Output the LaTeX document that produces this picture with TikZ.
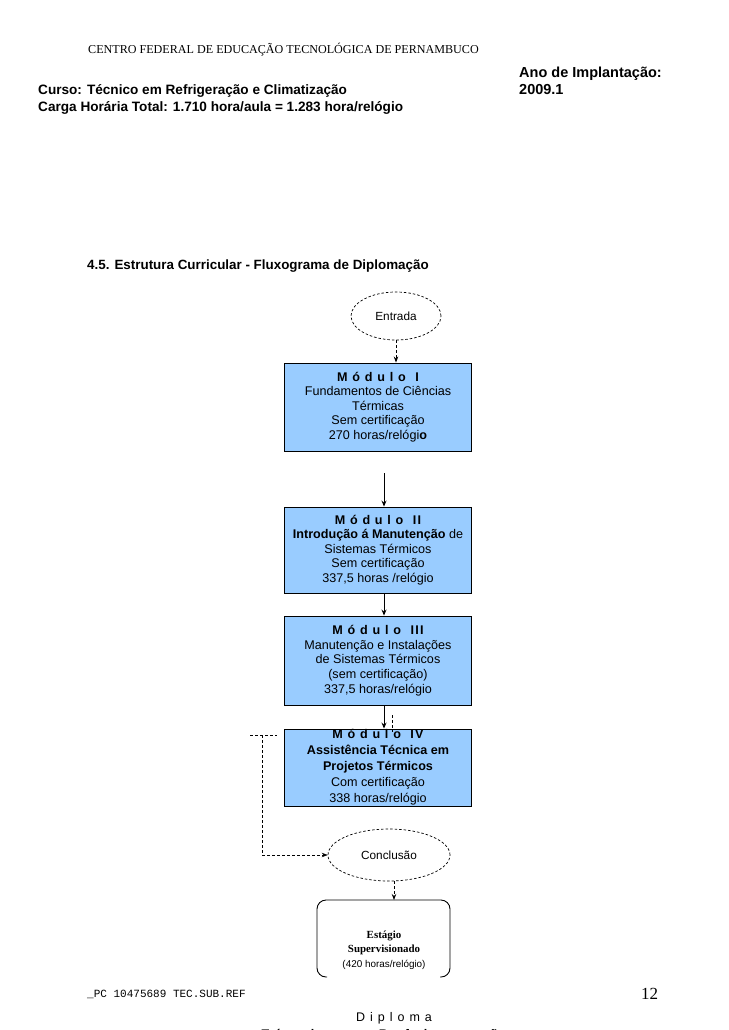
\documentclass[tikz,border=0pt]{standalone}
\usepackage{fontspec}
\setmainfont{Liberation Serif}
\setsansfont{Liberation Sans}
\setmonofont{Liberation Mono}
\newfontfamily\spacedfont[LetterSpace=10]{Liberation Sans}
\newfontfamily\widefont[LetterSpace=40]{Liberation Sans}
\usetikzlibrary{shapes.geometric, arrows.meta}
\definecolor{modblue}{RGB}{153,204,255}

\begin{document}
\begin{tikzpicture}[x=1pt, y=-1pt,
    module/.style={rectangle, draw, line width=0.9pt, fill=modblue, minimum width=187pt, align=center, inner sep=0pt, font=\sffamily\fontsize{12.6}{14.6}\selectfont},
    bubble/.style={ellipse, draw, line width=0.7pt, dash pattern=on 2.5pt off 2pt, inner sep=0pt, font=\sffamily\fontsize{11.8}{14}\selectfont},
    header/.style={anchor=base west, inner sep=0pt, font=\sffamily\bfseries\fontsize{13.6}{16}\selectfont},
    arrow/.style={-{Stealth[length=6pt, width=5pt]}, line width=1pt},
    dasharrow/.style={-{Stealth[length=6pt, width=4.5pt]}, line width=0.8pt, dash pattern=on 3pt off 2pt},
    dashline/.style={line width=0.6pt, dash pattern=on 3pt off 2pt}
]
\useasboundingbox (0,0) rectangle (728,1030);

% Page header
\node[header, font=\fontsize{12.1}{14}\selectfont] (inst) at (88,54) {CENTRO FEDERAL DE EDUCAÇÃO TECNOLÓGICA DE PERNAMBUCO};
\node[header, font=\sffamily\bfseries\fontsize{14.5}{17}\selectfont] (ano) at (519,78) {Ano de Implantação:};
\node[header, font=\sffamily\bfseries\fontsize{14.5}{17}\selectfont] (anoval) at (519,95) {2009.1};
\node[header] (curso) at (38,95) {Curso: Técnico em Refrigeração e Climatização};
\node[header] (carga) at (38,112) {Carga Horária Total: 1.710 hora/aula = 1.283 hora/relógio};
\node[header, font=\sffamily\bfseries\fontsize{13.4}{16}\selectfont] (titulo) at (87,269) {4.5. Estrutura Curricular - Fluxograma de Diplomação};

% Entry
\node[bubble, minimum width=90pt, minimum height=48pt] (entrada) at (396,316) {Entrada};

% Modules
\node[module, minimum height=88pt] (mod1) at (378,407) {{\spacedfont\bfseries M ó d u l o\ \ I}\\Fundamentos de Ciências\\Térmicas\\Sem certificação\\270 horas/relógi\textbf{o}};
\node[module, minimum height=86pt] (mod2) at (378,550) {{\spacedfont\bfseries M ó d u l o\ \ II}\\\textbf{Introdução á Manutenção} de\\Sistemas Térmicos\\Sem certificação\\337,5 horas /relógio};
\node[module, minimum height=89pt] (mod3) at (378,660.5) {{\spacedfont\bfseries M ó d u l o\ \ III}\\Manutenção e Instalações\\de Sistemas Térmicos\\(sem certificação)\\337,5 horas/relógio};
\node[module, minimum height=77pt, font=\sffamily\fontsize{12.6}{16}\selectfont] (mod4) at (378,767.5) {{\spacedfont\bfseries M ó d u l o\ \ IV}\\\textbf{Assistência Técnica em}\\\textbf{Projetos Térmicos}\\Com certificação\\338 horas/relógio};

% Conclusion and internship
\node[bubble, minimum width=122pt, minimum height=52pt] (concl) at (389,855) {Conclusão};
\node[align=center, inner sep=0pt, font=\fontsize{10.9}{14.5}\selectfont] (estagio) at (384,950) {\textbf{Estágio}\\\textbf{Supervisionado}\\{\sffamily\fontsize{9.9}{12}\selectfont (420 horas/relógio)}};
\draw[line width=0.9pt, rounded corners=9pt] (327,977) -- (317,977) -- (317,900) -- (450,900) -- (450,977) -- (440,977);
\coordinate (esttop) at (394,900);

% Diploma
\node[anchor=base, inner sep=0pt, font=\widefont\fontsize{12.5}{15}\selectfont] (diploma) at (394,1021) {Diploma};
\node[anchor=base, inner sep=0pt, font=\widefont\bfseries\fontsize{12.5}{15}\selectfont] (diptit) at (386,1038) {Técnico em Refrigeração};

% Footer
\node[anchor=base west, inner sep=0pt, font=\ttfamily\fontsize{11}{12}\selectfont] (ref) at (87,997) {\_PC 10475689 TEC.SUB.REF};
\node[anchor=base west, inner sep=0pt, font=\fontsize{17}{19}\selectfont] (page) at (641,999) {12};

% Arrows
\coordinate (spine) at (384,0);
\coordinate (gap) at (384,473);
\draw[dasharrow] (entrada.south) -- (mod1.north -| entrada.south);
\draw[arrow] (gap) -- (mod2.north -| gap);
\draw[arrow] (mod2.south -| spine) -- (mod3.north -| spine);
\draw[arrow] (mod3.south -| spine) -- (mod4.north -| spine);
\draw[dasharrow] (concl.south -| esttop) -- (esttop);

% Dashed leftovers
\coordinate (stub) at (392,715);
\draw[dashline] (stub) -- ++(0,17);
\coordinate (bl) at (250,735);
\coordinate (br) at (277,735);
\coordinate (bm) at (262,735);
\draw[dashline] (bl) -- (br);
\draw[dasharrow, line width=0.6pt] (bm) |- (concl.west);

\end{tikzpicture}
\end{document}
